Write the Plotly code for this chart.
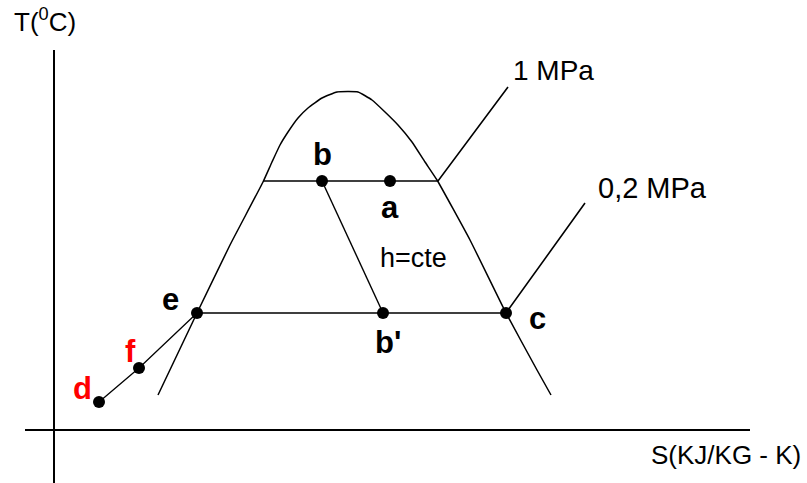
import plotly.graph_objects as go

# Schematic T-S diagram (arbitrary units, origin at the axes crossing)

# saturation dome
dome_s = [104, 143, 176, 209, 218, 226, 234, 244, 254, 268, 283, 304,
          318, 331, 344, 358, 371, 383, 416, 452, 483, 497]
dome_t = [35, 117, 185, 248, 268, 285, 298, 312, 322, 332, 338, 338,
          330, 318, 305, 288, 268, 250, 190, 117, 60, 35]

# state points
pt_names = ["a", "b", "b'", "c", "e", "f", "d"]
pt_s = [336, 268, 329, 452, 143, 85, 45]
pt_t = [249, 249, 117, 117, 117, 62, 28]

# isobars inside the dome and leader lines for their labels
iso_1mpa_s = [209, 384, 454]
iso_1mpa_t = [249, 249, 343]
iso_02mpa_s = [143, 452, 531]
iso_02mpa_t = [117, 117, 227]

# throttling line b -> b' and liquid line d -> f -> e
h_s = [268, 329]
h_t = [249, 117]
liq_s = [45, 85, 143]
liq_t = [28, 62, 117]

# axes
x_axis_s = [-29, 696]
x_axis_t = [0, 0]
y_axis_s = [0, 0]
y_axis_t = [-53, 380]

FONT = "Arial, Liberation Sans, sans-serif"
BLACK = "#000000"
RED = "#ff0000"

fig = go.Figure()

line_style = dict(color=BLACK, width=1.6)

fig.add_trace(go.Scatter(x=x_axis_s, y=x_axis_t, mode="lines", line=dict(color=BLACK, width=2)))
fig.add_trace(go.Scatter(x=y_axis_s, y=y_axis_t, mode="lines", line=dict(color=BLACK, width=2)))
fig.add_trace(go.Scatter(x=dome_s, y=dome_t, mode="lines",
                         line=dict(color=BLACK, width=1.5, shape="spline", smoothing=0.4)))
fig.add_trace(go.Scatter(x=iso_1mpa_s, y=iso_1mpa_t, mode="lines", line=line_style))
fig.add_trace(go.Scatter(x=iso_02mpa_s, y=iso_02mpa_t, mode="lines", line=line_style))
fig.add_trace(go.Scatter(x=h_s, y=h_t, mode="lines", line=dict(color=BLACK, width=1.4)))
fig.add_trace(go.Scatter(x=liq_s, y=liq_t, mode="lines", line=dict(color=BLACK, width=1.3)))
fig.add_trace(go.Scatter(x=pt_s, y=pt_t, mode="markers",
                         marker=dict(color=BLACK, size=12)))

# point labels (offsets in pixels from each point)
label_offsets = {
    "a": (0, -26, BLACK),
    "b": (0, 27, BLACK),
    "b'": (5, -29, BLACK),
    "c": (31, -5, BLACK),
    "e": (-27, 14, BLACK),
    "f": (-9, 17, RED),
    "d": (-17, 14, RED),
}
for name, s, t in zip(pt_names, pt_s, pt_t):
    dx, dy, col = label_offsets[name]
    fig.add_annotation(x=s, y=t, text=f"<b>{name}</b>", showarrow=False,
                       xshift=dx, yshift=dy,
                       font=dict(family=FONT, size=31, color=col))

# text labels
texts = [
    ("1 MPa", 499, 360, 28),
    ("0,2 MPa", 598, 242, 29),
    ("h=cte", 359, 172, 27),
    ("T(<sup>0</sup>C)", -9, 410, 26),
    ("S(KJ/KG - K)", 672, -25, 26),
]
for txt, s, t, size in texts:
    fig.add_annotation(x=s, y=t, text=txt, showarrow=False,
                       font=dict(family=FONT, size=size, color=BLACK))

fig.update_layout(
    width=807, height=483,
    margin=dict(l=0, r=0, t=0, b=0),
    paper_bgcolor="white", plot_bgcolor="white",
    showlegend=False,
    xaxis=dict(range=[-54, 753], visible=False, fixedrange=True),
    yaxis=dict(range=[-53, 430], visible=False, fixedrange=True),
)

fig.write_html("out.html")
